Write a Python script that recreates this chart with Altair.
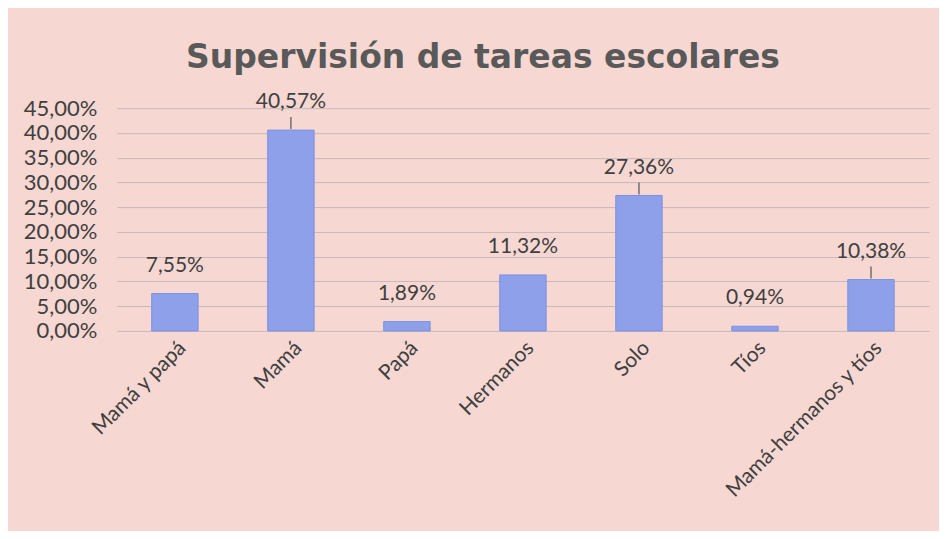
import altair as alt
import pandas as pd

categories = ["Mamá y papá", "Mamá", "Papá", "Hermanos", "Solo", "Tíos", "Mamá-hermanos y tíos"]
values = [0.0755, 0.4057, 0.0189, 0.1132, 0.2736, 0.0094, 0.1038]
labels = ["7,55%", "40,57%", "1,89%", "11,32%", "27,36%", "0,94%", "10,38%"]
leader = [False, True, False, False, True, False, True]
y_ticks = [0, 0.05, 0.10, 0.15, 0.20, 0.25, 0.30, 0.35, 0.40, 0.45]

df = pd.DataFrame({"cat": categories, "val": values, "lab": labels, "leader": leader})

FONT = "Lato"
TXT = "#404040"

x = alt.X("cat:N", sort=categories, title=None,
          scale=alt.Scale(paddingInner=0.6, paddingOuter=0.3),
          axis=alt.Axis(labelAngle=-45, labelFontSize=21, labelFont=FONT, labelColor=TXT,
                        labelPadding=6, ticks=False, domain=False, labelLimit=400,
                        labelOverlap=False))
y = alt.Y("val:Q", title=None,
          scale=alt.Scale(domain=[0, 0.45], nice=False),
          axis=alt.Axis(values=y_ticks, tickCount=10,
                        labelExpr="replace(format(datum.value, '.2%'), '.', ',')",
                        labelFontSize=22, labelFont=FONT, labelColor=TXT, labelPadding=20,
                        labelOverlap=False, labelBound=False,
                        ticks=False, domain=False, grid=True, gridColor="#c9b9b9", gridWidth=1))

base = alt.Chart(df)

bars = base.mark_bar(color="#8fa0ea", stroke="#7d90e0", strokeWidth=1).encode(x=x, y=y)

text = base.mark_text(baseline="alphabetic", dy=-22, fontSize=21, font=FONT, color=TXT).encode(
    x=x, y=y, text="lab:N")

lines = base.transform_filter("datum.leader").mark_rule(
    color="#555555", strokeWidth=1.2, yOffset=-1, y2Offset=-13).encode(
    x=x, y=y, y2=alt.Y2("val:Q"))

chart = alt.layer(bars, lines, text).properties(
    width=813, height=223,
    autosize=alt.AutoSizeParams(type="none"),
    padding={"left": 109, "top": 100, "right": 10, "bottom": 200},
    background="#f6d7d1",
    title=alt.TitleParams("Supervisión de tareas escolares", font="DejaVu Sans", fontSize=33,
                          fontWeight="bold", color="#595959", anchor="middle", dx=-40, offset=16),
).configure_view(stroke=None)

chart.save("out.html", embed_options={"renderer": "svg", "actions": False})
